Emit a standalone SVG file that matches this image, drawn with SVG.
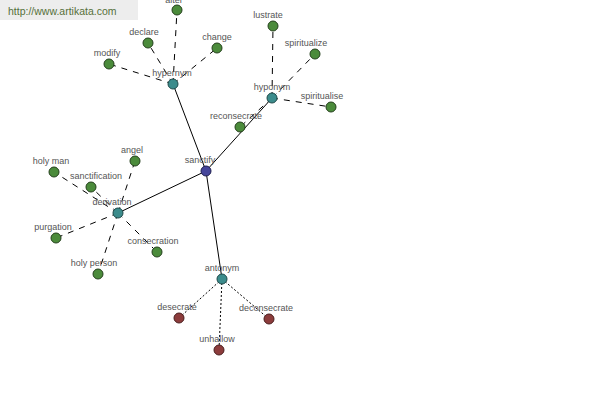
<svg xmlns="http://www.w3.org/2000/svg" width="600" height="400" viewBox="0 0 600 400">
<style>
text{font-family:"Liberation Sans",Arial,sans-serif;font-size:9px;fill:#555;text-anchor:middle}
.g{fill:#4b8b3b;stroke:#24401c;stroke-width:1}
.t{fill:#3c8c8c;stroke:#1e4a4a;stroke-width:1}
.b{fill:#45459a;stroke:#1e1e50;stroke-width:1}
.r{fill:#8c3c3c;stroke:#4a1e1e;stroke-width:1}
.s{stroke:#000;stroke-width:1;fill:none}
.d{stroke:#000;stroke-width:1;fill:none;stroke-dasharray:6,6}
.o{stroke:#000;stroke-width:1;fill:none;stroke-dasharray:2,2}
</style>
<rect x="0" y="0" width="138" height="20" fill="#ededed"/>
<text x="8" y="15" style="text-anchor:start;font-size:10.5px;fill:#56703a">http://www.artikata.com</text>
<g id="connectors">
<line class="s" x1="206" y1="171" x2="173" y2="84"/>
<line class="s" x1="206" y1="171" x2="272" y2="98"/>
<line class="s" x1="206" y1="171" x2="118" y2="213"/>
<line class="s" x1="206" y1="171" x2="222" y2="279"/>
<line class="d" x1="173" y1="84" x2="177" y2="10"/>
<line class="d" x1="173" y1="84" x2="148" y2="43"/>
<line class="d" x1="173" y1="84" x2="109" y2="64"/>
<line class="d" x1="173" y1="84" x2="217" y2="48"/>
<line class="d" x1="272" y1="98" x2="273" y2="26"/>
<line class="d" x1="272" y1="98" x2="315" y2="54"/>
<line class="d" x1="272" y1="98" x2="331" y2="107"/>
<line class="d" x1="272" y1="98" x2="240" y2="127"/>
<line class="d" x1="118" y1="213" x2="135" y2="161"/>
<line class="d" x1="118" y1="213" x2="54" y2="172"/>
<line class="d" x1="118" y1="213" x2="91" y2="187"/>
<line class="d" x1="118" y1="213" x2="56" y2="238"/>
<line class="d" x1="118" y1="213" x2="157" y2="252"/>
<line class="d" x1="118" y1="213" x2="98" y2="274"/>
<line class="o" x1="222" y1="279" x2="179" y2="318"/>
<line class="o" x1="222" y1="279" x2="269" y2="319"/>
<line class="o" x1="222" y1="279" x2="219" y2="350"/>
</g>
<g id="alter"><circle class="g" cx="177" cy="10" r="5"/><text x="174" y="3">alter</text></g>
<g id="declare"><circle class="g" cx="148" cy="43" r="5"/><text x="144" y="35">declare</text></g>
<g id="modify"><circle class="g" cx="109" cy="64" r="5"/><text x="107" y="56">modify</text></g>
<g id="change"><circle class="g" cx="217" cy="48" r="5"/><text x="217" y="40">change</text></g>
<g id="lustrate"><circle class="g" cx="273" cy="26" r="5"/><text x="268" y="18">lustrate</text></g>
<g id="spiritualize"><circle class="g" cx="315" cy="54" r="5"/><text x="306" y="46">spiritualize</text></g>
<g id="spiritualise"><circle class="g" cx="331" cy="107" r="5"/><text x="322" y="99">spiritualise</text></g>
<g id="reconsecrate"><circle class="g" cx="240" cy="127" r="5"/><text x="236" y="119">reconsecrate</text></g>
<g id="angel"><circle class="g" cx="135" cy="161" r="5"/><text x="132" y="153">angel</text></g>
<g id="holy-man"><circle class="g" cx="54" cy="172" r="5"/><text x="51" y="164">holy man</text></g>
<g id="sanctification"><circle class="g" cx="91" cy="187" r="5"/><text x="96" y="179">sanctification</text></g>
<g id="purgation"><circle class="g" cx="56" cy="238" r="5"/><text x="53" y="230">purgation</text></g>
<g id="consecration"><circle class="g" cx="157" cy="252" r="5"/><text x="153" y="244">consecration</text></g>
<g id="holy-person"><circle class="g" cx="98" cy="274" r="5"/><text x="94" y="266">holy person</text></g>
<g id="desecrate"><circle class="r" cx="179" cy="318" r="5"/><text x="177" y="310">desecrate</text></g>
<g id="deconsecrate"><circle class="r" cx="269" cy="319" r="5"/><text x="266" y="311">deconsecrate</text></g>
<g id="unhallow"><circle class="r" cx="219" cy="350" r="5"/><text x="217" y="342">unhallow</text></g>
<g id="hypernym"><circle class="t" cx="173" cy="84" r="5"/><text x="172" y="76">hypernym</text></g>
<g id="hyponym"><circle class="t" cx="272" cy="98" r="5"/><text x="272" y="90">hyponym</text></g>
<g id="derivation"><circle class="t" cx="118" cy="213" r="5"/><text x="112" y="205">derivation</text></g>
<g id="antonym"><circle class="t" cx="222" cy="279" r="5"/><text x="222" y="271">antonym</text></g>
<g id="sanctify"><circle class="b" cx="206" cy="171" r="5"/><text x="200" y="163">sanctify</text></g>
</svg>
